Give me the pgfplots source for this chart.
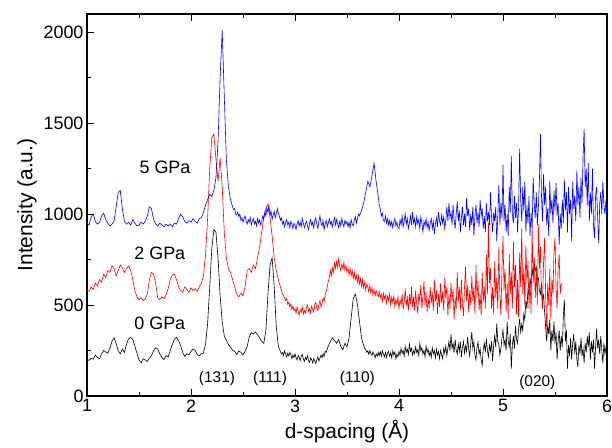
\documentclass[border=0pt]{standalone}
\usepackage{fontspec}
\setmainfont{Liberation Sans}
\usepackage{pgfplots}
\pgfplotsset{compat=1.18}
\pgfplotstableread{
x y
1.00 200
1.02 196
1.04 208
1.06 202
1.08 225
1.10 212
1.12 205
1.14 232
1.16 250
1.18 242
1.20 236
1.22 262
1.24 300
1.26 320
1.28 290
1.30 248
1.32 232
1.34 258
1.36 240
1.38 285
1.40 315
1.42 322
1.44 310
1.46 275
1.48 235
1.50 200
1.52 183
1.54 205
1.56 198
1.58 190
1.60 208
1.62 222
1.64 248
1.66 265
1.68 258
1.70 232
1.72 212
1.74 200
1.76 222
1.78 214
1.80 250
1.82 282
1.84 312
1.86 322
1.88 305
1.90 278
1.92 240
1.94 218
1.96 232
1.98 226
2.00 245
2.02 258
2.04 250
2.06 228
2.08 222
2.10 232
2.12 238
2.14 285
2.16 400
2.18 600
2.20 810
2.22 915
2.24 900
2.26 760
2.28 550
2.30 410
2.32 330
2.34 305
2.36 282
2.38 268
2.40 252
2.42 246
2.44 228
2.46 248
2.48 240
2.50 226
2.52 245
2.54 272
2.56 325
2.58 348
2.60 340
2.62 352
2.64 338
2.66 320
2.68 300
2.70 290
2.72 360
2.74 560
2.76 720
2.78 760
2.80 600
2.82 380
2.84 272
2.86 245
2.87 232
2.88 240
2.89 222
2.90 248
2.91 230
2.92 215
2.93 235
2.94 220
2.95 240
2.96 228
2.97 205
2.98 225
2.99 212
3.00 232
3.01 210
3.02 198
3.03 222
3.04 212
3.05 195
3.06 218
3.07 228
3.08 205
3.09 190
3.10 212
3.11 200
3.12 222
3.13 195
3.14 185
3.15 210
3.16 200
3.17 182
3.18 205
3.19 192
3.20 178
3.21 200
3.22 215
3.23 192
3.24 208
3.25 225
3.26 210
3.27 232
3.28 218
3.29 245
3.30 240
3.32 275
3.34 300
3.36 320
3.38 305
3.40 290
3.42 310
3.44 272
3.46 255
3.48 290
3.50 270
3.52 320
3.54 430
3.56 535
3.58 560
3.60 505
3.62 410
3.64 318
3.66 278
3.67 262
3.68 255
3.69 240
3.70 248
3.71 228
3.72 250
3.73 232
3.74 222
3.75 242
3.76 228
3.77 210
3.78 232
3.79 218
3.80 240
3.81 222
3.82 245
3.83 218
3.84 250
3.85 232
3.86 215
3.87 240
3.88 212
3.89 236
3.90 245
3.91 218
3.92 238
3.93 210
3.94 248
3.95 226
3.96 242
3.97 205
3.98 230
3.99 215
4.00 245
4.01 225
4.02 262
4.03 235
4.04 250
4.05 220
4.06 272
4.07 240
4.08 258
4.09 228
4.10 285
4.11 245
4.12 262
4.13 225
4.14 250
4.15 232
4.16 270
4.17 238
4.18 255
4.19 222
4.20 290
4.21 248
4.22 265
4.23 230
4.24 250
4.25 215
4.26 275
4.27 240
4.28 258
4.29 222
4.30 245
4.31 212
4.32 265
4.33 232
4.34 250
4.35 210
4.36 258
4.37 225
4.38 245
4.39 205
4.40 250
4.41 228
4.42 205
4.43 262
4.44 235
4.45 275
4.46 222
4.47 262
4.48 300
4.49 250
4.50 340
4.51 262
4.52 290
4.53 238
4.54 310
4.55 252
4.56 230
4.57 285
4.58 245
4.59 300
4.60 212
4.61 268
4.62 300
4.63 235
4.64 275
4.65 245
4.66 325
4.67 258
4.68 220
4.69 290
4.70 352
4.71 262
4.72 298
4.73 225
4.74 198
4.75 270
4.76 295
4.77 230
4.78 260
4.79 200
4.80 170
4.81 258
4.82 290
4.83 240
4.84 315
4.85 250
4.86 215
4.87 280
4.88 245
4.89 300
4.90 192
4.91 280
4.92 330
4.93 270
4.94 398
4.95 300
4.96 285
4.97 225
4.98 262
4.99 320
5.00 362
5.01 280
5.02 310
5.03 250
5.04 408
5.05 300
5.06 270
5.07 340
5.08 150
5.09 280
5.10 330
5.11 260
5.12 385
5.13 310
5.14 290
5.15 370
5.16 425
5.17 350
5.18 395
5.19 360
5.20 452
5.21 420
5.22 525
5.23 480
5.24 585
5.25 560
5.26 645
5.27 610
5.28 700
5.29 660
5.30 735
5.31 690
5.32 710
5.33 640
5.34 650
5.35 580
5.36 560
5.37 620
5.38 520
5.39 560
5.40 460
5.41 380
5.42 300
5.43 390
5.44 340
5.45 420
5.46 250
5.47 360
5.48 300
5.49 410
5.50 290
5.51 350
5.52 200
5.53 300
5.54 360
5.55 250
5.56 330
5.57 270
5.58 440
5.59 530
5.60 300
5.61 360
5.62 150
5.63 280
5.64 220
5.65 320
5.66 200
5.67 290
5.68 340
5.69 230
5.70 300
5.71 200
5.72 160
5.73 280
5.74 230
5.75 320
5.76 220
5.77 260
5.78 180
5.79 290
5.80 240
5.81 330
5.82 270
5.83 350
5.84 200
5.85 300
5.86 240
5.87 310
5.88 150
5.89 270
5.90 370
5.91 260
5.92 310
5.93 230
5.94 330
5.95 250
5.96 180
5.97 290
5.98 230
5.99 270
6.00 200
}\zeroGPa
\pgfplotstableread{
x y
1.00 580
1.02 575
1.04 600
1.06 585
1.08 620
1.10 605
1.12 640
1.14 625
1.16 670
1.18 650
1.20 690
1.22 680
1.24 715
1.26 700
1.28 660
1.30 690
1.32 720
1.34 705
1.36 680
1.38 700
1.40 715
1.42 690
1.44 640
1.46 580
1.48 545
1.50 530
1.52 540
1.54 525
1.56 535
1.58 560
1.60 640
1.62 680
1.64 670
1.66 620
1.68 540
1.70 530
1.72 545
1.74 535
1.76 555
1.78 590
1.80 640
1.82 665
1.84 670
1.86 640
1.88 600
1.90 580
1.92 570
1.94 600
1.96 585
1.98 570
2.00 595
2.02 580
2.04 590
2.06 575
2.08 600
2.10 620
2.12 660
2.14 780
2.16 980
2.18 1250
2.20 1420
2.22 1440
2.24 1300
2.26 1180
2.28 1310
2.30 1150
2.32 900
2.34 760
2.36 700
2.38 680
2.40 640
2.42 600
2.44 560
2.46 545
2.48 565
2.50 550
2.52 600
2.54 690
2.56 700
2.58 680
2.60 720
2.62 700
2.64 760
2.66 820
2.68 900
2.70 980
2.72 1030
2.74 1055
2.76 980
2.78 880
2.80 760
2.82 690
2.84 640
2.86 600
2.88 560
2.90 540
2.91 525
2.92 535
2.93 505
2.94 515
2.95 490
2.96 505
2.97 475
2.98 495
2.99 470
3.00 480
3.01 455
3.02 490
3.03 465
3.04 445
3.05 475
3.06 460
3.07 490
3.08 450
3.09 470
3.10 455
3.11 485
3.12 500
3.13 465
3.14 480
3.15 455
3.16 495
3.17 475
3.18 460
3.19 500
3.20 515
3.21 480
3.22 470
3.23 505
3.24 525
3.25 490
3.26 510
3.27 540
3.28 520
3.29 555
3.30 575
3.31 600
3.32 630
3.33 650
3.34 690
3.35 660
3.36 705
3.37 680
3.38 730
3.39 700
3.40 740
3.41 705
3.42 755
3.43 710
3.44 690
3.45 725
3.46 700
3.47 735
3.48 690
3.49 715
3.50 680
3.51 705
3.52 665
3.53 700
3.54 660
3.55 690
3.56 645
3.57 680
3.58 640
3.59 665
3.60 625
3.61 660
3.62 615
3.63 645
3.64 600
3.65 640
3.66 595
3.67 625
3.68 580
3.69 615
3.70 600
3.71 570
3.72 610
3.73 565
3.74 595
3.75 555
3.76 585
3.77 550
3.78 580
3.79 560
3.80 545
3.81 575
3.82 540
3.83 560
3.84 520
3.85 565
3.86 535
3.87 555
3.88 510
3.89 550
3.90 525
3.91 560
3.92 500
3.93 545
3.94 515
3.95 550
3.96 490
3.97 530
3.98 505
3.99 545
4.00 480
4.01 530
4.02 500
4.03 560
4.04 475
4.05 520
4.06 590
4.07 495
4.08 540
4.09 470
4.10 560
4.11 505
4.12 600
4.13 490
4.14 545
4.15 470
4.16 580
4.17 510
4.18 455
4.19 560
4.20 520
4.21 610
4.22 480
4.23 550
4.24 630
4.25 500
4.26 570
4.27 460
4.28 540
4.29 480
4.30 600
4.31 510
4.32 570
4.33 470
4.34 640
4.35 520
4.36 580
4.37 450
4.38 560
4.39 490
4.40 620
4.41 510
4.42 575
4.43 470
4.44 650
4.45 540
4.46 600
4.47 440
4.48 560
4.49 480
4.50 620
4.51 520
4.52 590
4.53 420
4.54 540
4.55 480
4.56 680
4.57 520
4.58 600
4.59 470
4.60 640
4.61 500
4.62 440
4.63 600
4.64 710
4.65 520
4.66 610
4.67 460
4.68 580
4.69 500
4.70 660
4.71 520
4.72 600
4.73 450
4.74 720
4.75 540
4.76 630
4.77 470
4.78 560
4.79 440
4.80 680
4.81 520
4.82 600
4.83 480
4.84 780
4.85 560
4.86 950
4.87 620
4.88 700
4.89 480
4.90 600
4.91 450
4.92 740
4.93 540
4.94 650
4.95 480
4.96 820
4.97 560
4.98 440
4.99 700
5.00 880
5.01 580
5.02 700
5.03 460
5.04 620
5.05 420
5.06 780
5.07 560
5.08 680
5.09 480
5.10 850
5.11 600
5.12 720
5.13 450
5.14 640
5.15 430
5.16 790
5.17 600
5.18 920
5.19 560
5.20 700
5.21 500
5.22 830
5.23 620
5.24 740
5.25 480
5.26 650
5.27 450
5.28 935
5.29 620
5.30 760
5.31 540
5.32 700
5.33 500
5.34 945
5.35 700
5.36 820
5.37 560
5.38 480
5.39 740
5.40 870
5.41 560
5.42 360
5.43 620
5.44 500
5.45 700
5.46 420
5.47 640
5.48 560
5.49 780
5.50 870
5.51 600
5.52 480
5.53 700
5.54 780
5.55 560
5.56 620
}\twoGPa
\pgfplotstableread{
x y
1.00 950
1.02 940
1.04 985
1.06 1000
1.08 960
1.10 945
1.12 955
1.14 990
1.16 1005
1.18 970
1.20 950
1.22 935
1.24 945
1.26 960
1.28 1040
1.30 1120
1.32 1130
1.34 1030
1.36 960
1.38 945
1.40 955
1.42 940
1.44 970
1.46 950
1.48 935
1.50 940
1.52 955
1.54 945
1.56 960
1.58 990
1.60 1040
1.62 1030
1.64 970
1.66 945
1.68 935
1.70 950
1.72 940
1.74 930
1.76 945
1.78 935
1.80 945
1.82 930
1.84 950
1.86 945
1.88 975
1.90 1000
1.92 985
1.94 960
1.96 950
1.98 965
2.00 955
2.02 975
2.04 960
2.06 950
2.08 975
2.10 980
2.12 1010
2.14 1050
2.16 1080
2.18 1110
2.20 1095
2.22 1130
2.24 1200
2.26 1400
2.28 1750
2.30 2010
2.32 1650
2.34 1300
2.36 1150
2.38 1080
2.40 1040
2.41 1025
2.42 1030
2.43 1000
2.44 995
2.45 1010
2.46 985
2.47 1000
2.48 965
2.49 980
2.50 955
2.51 975
2.52 990
2.53 960
2.54 945
2.55 970
2.56 955
2.57 980
2.58 940
2.59 960
2.60 975
2.61 945
2.62 960
2.63 935
2.64 975
2.65 950
2.66 968
2.67 940
2.68 955
2.69 990
2.70 975
2.71 1010
2.72 990
2.73 1035
2.74 1010
2.75 1045
2.76 995
2.77 1015
2.78 970
2.79 995
2.80 1015
2.81 980
2.82 1000
2.83 1030
2.84 1005
2.85 990
2.86 965
2.87 980
2.88 945
2.89 960
2.90 930
2.91 955
2.92 970
2.93 940
2.94 955
2.95 925
2.96 960
2.97 945
2.98 920
2.99 950
3.00 940
3.01 915
3.02 945
3.03 965
3.04 935
3.05 955
3.06 930
3.07 975
3.08 950
3.09 925
3.10 945
3.11 960
3.12 935
3.13 915
3.14 950
3.15 970
3.16 940
3.17 955
3.18 925
3.19 965
3.20 980
3.21 945
3.22 920
3.23 960
3.24 990
3.25 950
3.26 935
3.27 965
3.28 915
3.29 945
3.30 965
3.31 930
3.32 950
3.33 975
3.34 945
3.35 960
3.36 930
3.37 955
3.38 980
3.39 940
3.40 970
3.41 945
3.42 925
3.43 960
3.44 935
3.45 975
3.46 950
3.47 930
3.48 965
3.49 945
3.50 960
3.51 930
3.52 955
3.53 925
3.54 970
3.55 945
3.56 935
3.57 965
3.58 985
3.59 950
3.60 975
3.61 1000
3.62 990
3.64 1020
3.66 1060
3.68 1120
3.70 1180
3.72 1150
3.74 1210
3.76 1280
3.78 1180
3.80 1100
3.81 1050
3.82 1030
3.83 990
3.84 1005
3.85 965
3.86 960
3.87 990
3.88 950
3.89 975
3.90 940
3.91 965
3.92 935
3.93 960
3.94 925
3.95 955
3.96 975
3.97 935
3.98 955
3.99 925
4.00 920
4.01 970
4.02 940
4.03 990
4.04 930
4.05 960
4.06 1000
4.07 945
4.08 975
4.09 920
4.10 950
4.11 990
4.12 940
4.13 1010
4.14 950
4.15 975
4.16 930
4.17 985
4.18 945
4.19 970
4.20 920
4.21 985
4.22 950
4.23 900
4.24 960
4.25 935
4.26 975
4.27 925
4.28 955
4.29 910
4.30 950
4.31 975
4.32 920
4.33 960
4.34 890
4.35 945
4.36 980
4.37 930
4.38 1010
4.39 960
4.40 940
4.41 995
4.42 950
4.43 985
4.44 920
4.45 970
4.46 1040
4.47 960
4.48 1060
4.49 980
4.50 1010
4.51 940
4.52 1050
4.53 970
4.54 920
4.55 1000
4.56 1070
4.57 960
4.58 1020
4.59 900
4.60 980
4.61 1040
4.62 940
4.63 1000
4.64 930
4.65 1090
4.66 990
4.67 1030
4.68 910
4.69 1000
4.70 940
4.71 1040
4.72 880
4.73 990
4.74 1050
4.75 950
4.76 1010
4.77 930
4.78 1080
4.79 990
4.80 1030
4.81 920
4.82 990
4.83 900
4.84 1060
4.85 960
4.86 1010
4.87 940
4.88 1120
4.89 980
4.90 900
4.91 1010
4.92 960
4.93 1040
4.94 850
4.95 990
4.96 1160
4.97 940
4.98 1060
4.99 980
5.00 1270
5.01 960
5.02 1050
5.03 900
5.04 1000
5.05 880
5.06 1150
5.07 1010
5.08 1320
5.09 1000
5.10 950
5.11 1100
5.12 980
5.13 1060
5.14 900
5.15 1040
5.16 1360
5.17 1080
5.18 960
5.19 1150
5.20 1020
5.21 1180
5.22 900
5.23 1050
5.24 950
5.25 1100
5.26 880
5.27 1010
5.28 920
5.29 1200
5.30 1060
5.31 980
5.32 1120
5.33 940
5.34 1030
5.35 1180
5.36 1440
5.37 1100
5.38 960
5.39 1220
5.40 1050
5.41 1150
5.42 940
5.43 1030
5.44 880
5.45 1180
5.46 1000
5.47 1080
5.48 950
5.49 1130
5.50 1020
5.51 1170
5.52 990
5.53 1060
5.54 830
5.55 1000
5.56 920
5.57 1080
5.58 950
5.59 1190
5.60 1020
5.61 1120
5.62 900
5.63 1150
5.64 1000
5.65 1080
5.66 850
5.67 1180
5.68 1030
5.69 1100
5.70 960
5.71 1240
5.72 1050
5.73 1150
5.74 980
5.75 1200
5.76 1060
5.77 1320
5.78 1470
5.79 1150
5.80 1250
5.81 1050
5.82 1280
5.83 960
5.84 1120
5.85 1000
5.86 1250
5.87 940
5.88 870
5.89 1100
5.90 1150
5.91 980
5.92 840
5.93 1060
5.94 1120
5.95 1000
5.96 1180
5.97 1050
5.98 1000
5.99 1080
6.00 960
}\fiveGPa
\begin{document}
\begin{tikzpicture}
\begin{axis}[
  scale only axis, width=520bp, height=382bp,
  xmin=1, xmax=6, ymin=0, ymax=2100,
  xtick={1,2,3,4,5,6}, minor xtick={1.5,2.5,3.5,4.5,5.5},
  ytick={0,500,1000,1500,2000}, minor ytick={250,750,1250,1750},
  xtick pos=both, ytick pos=left,
  tick align=inside,
  major tick length=7bp, minor tick length=4bp,
  every tick/.style={black, line width=0.9bp},
  axis line style={line width=1.2bp},
  /pgf/number format/assume math mode=true,
  /pgf/number format/set thousands separator={},
  scaled y ticks=false,
  ticklabel style={font=\fontsize{18}{20}\selectfont},
  label style={font=\fontsize{21}{24}\selectfont},
  xlabel={d-spacing (Å)}, ylabel={Intensity (a.u.)},
  xlabel style={yshift=-1bp},
  every axis plot/.append style={line width=0.6bp, mark=none},
]
\addplot[black] table[x=x,y=y] {\zeroGPa};
\addplot[red] table[x=x,y=y] {\twoGPa};
\addplot[blue] table[x=x,y=y] {\fiveGPa};
\node[font=\fontsize{18}{20}\selectfont] at (axis cs:1.75,1258) {5 GPa};
\node[font=\fontsize{18}{20}\selectfont] at (axis cs:1.70,786) {2 GPa};
\node[font=\fontsize{18}{20}\selectfont] at (axis cs:1.70,401) {0 GPa};
\node[font=\fontsize{15.5}{18}\selectfont] at (axis cs:2.25,95) {(131)};
\node[font=\fontsize{15.5}{18}\selectfont] at (axis cs:2.76,95) {(111)};
\node[font=\fontsize{15.5}{18}\selectfont] at (axis cs:3.60,95) {(110)};
\node[font=\fontsize{15.5}{18}\selectfont] at (axis cs:5.33,75) {(020)};
\end{axis}
\pgfresetboundingbox
\path (current axis.south west) ++(-87bp,-52bp) rectangle ([shift={(5bp,14bp)}]current axis.north east);
\end{tikzpicture}
\end{document}
